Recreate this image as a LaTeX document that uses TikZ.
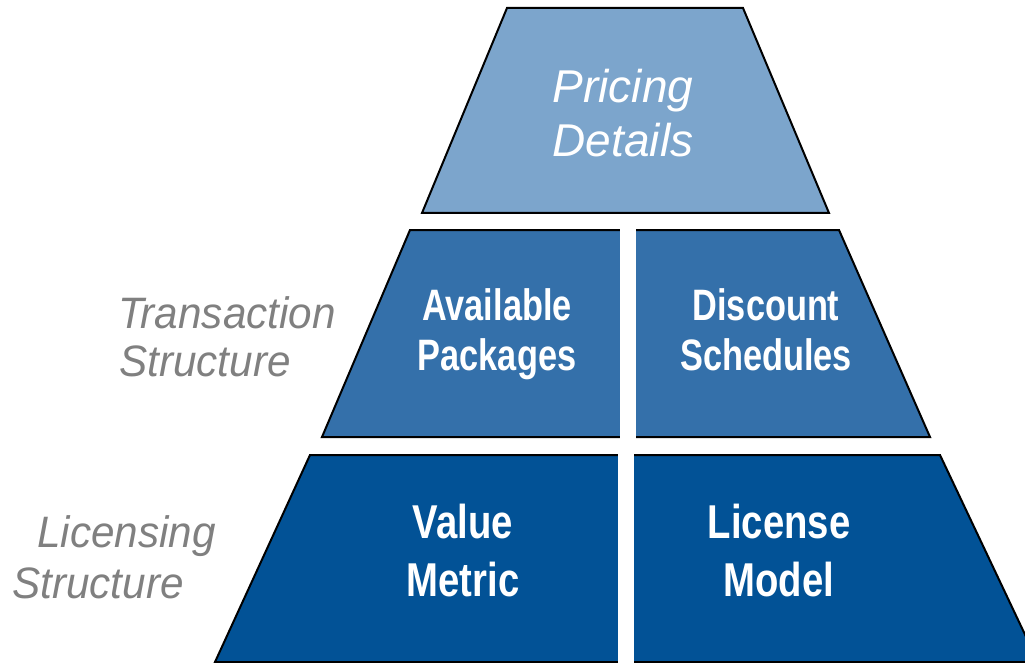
\documentclass[tikz,border=0pt]{standalone}
\usepackage{fontspec}
\setmainfont{Liberation Sans}
\newfontfamily\labfont[FakeStretch=0.96]{Liberation Sans}
\newfontfamily\midfont[FakeStretch=0.78]{Liberation Sans}
\newfontfamily\botfont[FakeStretch=0.806]{Liberation Sans}
\definecolor{toptier}{RGB}{124,165,204}
\definecolor{midtier}{RGB}{52,112,170}
\definecolor{bottier}{RGB}{2,82,150}
\definecolor{labgray}{RGB}{128,128,128}
\tikzset{
  tier/.style={draw=black, line width=2pt, line join=miter},
  gapbar/.style={fill=white, draw=none},
  pricetext/.style={inner sep=0pt, anchor=base, text=white, font=\fontsize{46}{54}\selectfont\itshape},
  midtext/.style={inner sep=0pt, anchor=base, text=white, font=\midfont\bfseries\fontsize{44}{50}\selectfont},
  bottext/.style={inner sep=0pt, anchor=base, text=white, font=\botfont\bfseries\fontsize{47.5}{58}\selectfont},
  sidetext/.style={inner sep=0pt, anchor=base west, text=labgray, font=\labfont\itshape\fontsize{44}{46}\selectfont}
}
\begin{document}
\begin{tikzpicture}[x=1pt, y=-1pt]
\useasboundingbox (0,0) rectangle (1025,663);
\clip (0,0) rectangle (1025,663);
% top tier
\path[tier, fill=toptier] (507,8) -- (743,8) -- (829,213) -- (422,213) -- cycle;
% middle tier
\path[tier, fill=midtier] (410,230) -- (839,230) -- (930,437) -- (322,437) -- cycle;
\path[gapbar] (620,226) rectangle (636,441);
% bottom tier
\path[tier, fill=bottier] (310,455) -- (940,455) -- (1038,662) -- (215,662) -- cycle;
\path[gapbar] (618,451) rectangle (634,666);
% texts
\node[pricetext] (pricing1) at (623,103) {Pricing};
\node[pricetext] (pricing2) at (623,157) {Details};
\node[midtext] (avail1) at (497,320) {Available};
\node[midtext] (avail2) at (497,370) {Packages};
\node[midtext] (disc1) at (766,320) {Discount};
\node[midtext] (disc2) at (766,370) {Schedules};
\node[bottext] (value1) at (463,538) {Value};
\node[bottext] (value2) at (463,596) {Metric};
\node[bottext] (lic1) at (779,538) {License};
\node[bottext] (lic2) at (779,596) {Model};
\node[sidetext] (trans1) at (118,328) {Transaction};
\node[sidetext] (trans2) at (119,376) {Structure};
\node[sidetext] (licst1) at (37,547) {Licensing};
\node[sidetext] (licst2) at (12,598) {Structure};
\end{tikzpicture}
\end{document}
